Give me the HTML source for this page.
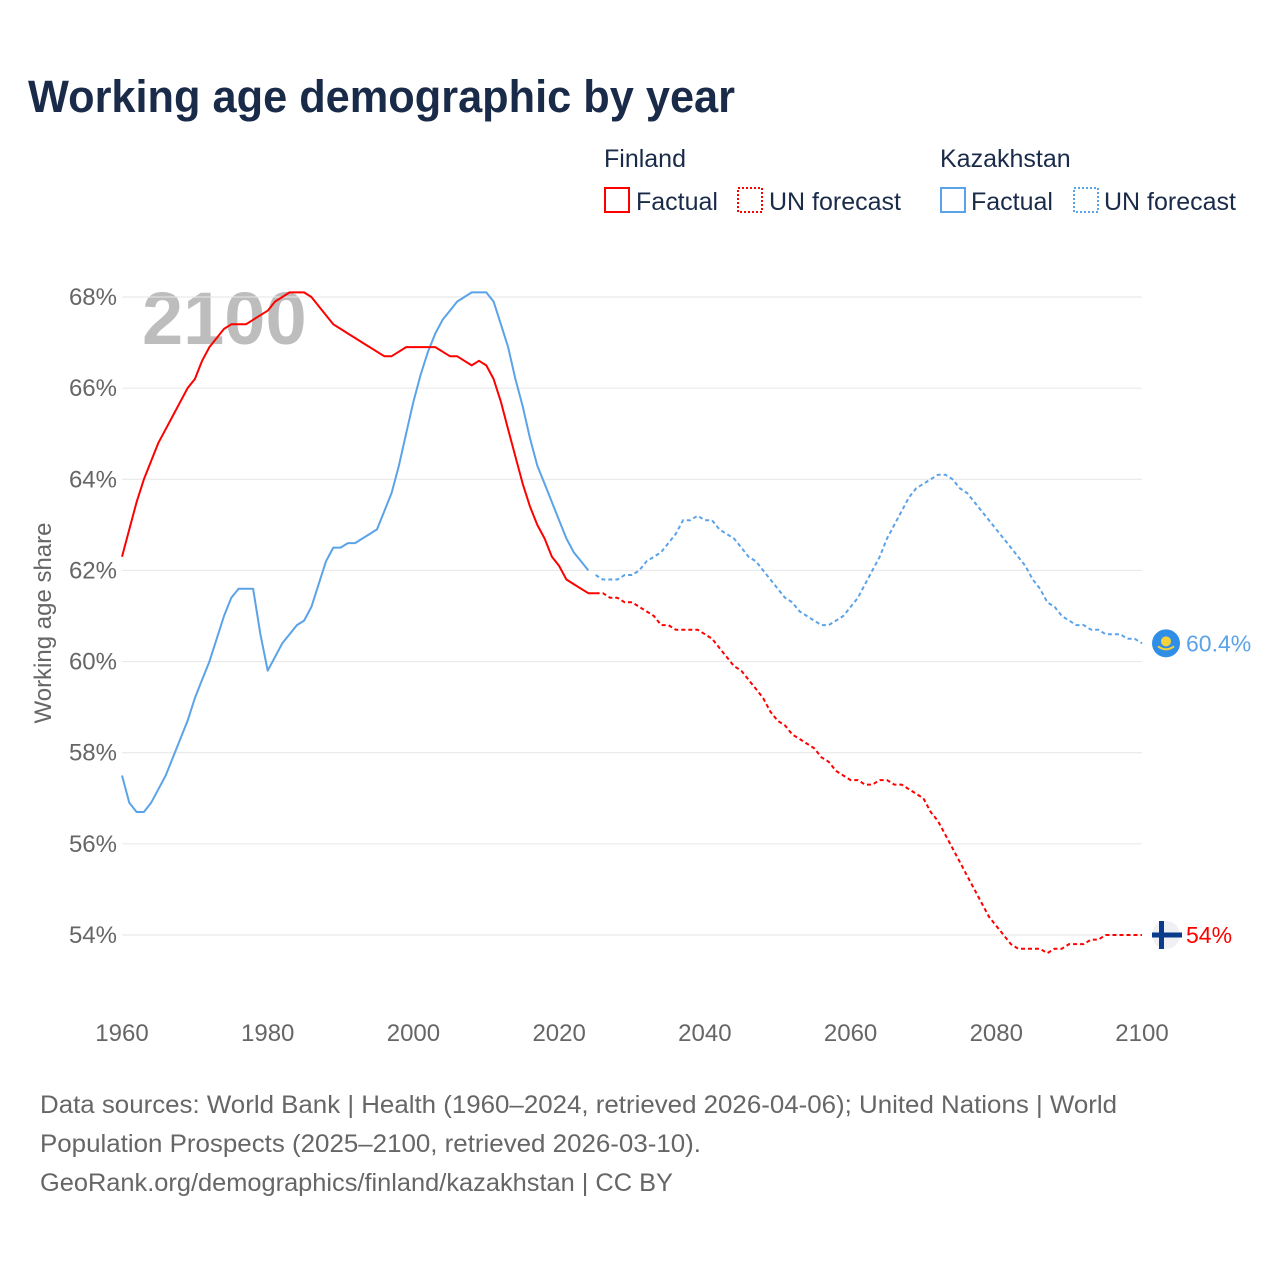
<!DOCTYPE html>
<html><head><meta charset="utf-8"><style>
body{margin:0;background:#fff;}
svg text{font-family:"Liberation Sans",sans-serif;}
</style></head><body>
<svg id="c" width="1280" height="1280" viewBox="0 0 1280 1280">
<rect width="1280" height="1280" fill="#fff"/>
<text x="28" y="112" font-size="45" font-weight="bold" fill="#1a2b49" textLength="707" lengthAdjust="spacingAndGlyphs">Working age demographic by year</text>
<g font-size="25" fill="#1a2b49">
<text x="604" y="167">Finland</text>
<text x="940" y="167">Kazakhstan</text>
<g><rect x="605" y="188" width="24" height="24" fill="none" stroke="#f00" stroke-width="2"/><text x="636" y="210">Factual</text></g>
<g><rect x="738" y="188" width="24" height="24" fill="none" stroke="#f00" stroke-width="2" stroke-dasharray="2 2"/><text x="769" y="210">UN forecast</text></g>
<g><rect x="941" y="188" width="24" height="24" fill="none" stroke="#5ba3e8" stroke-width="2"/><text x="971" y="210">Factual</text></g>
<g><rect x="1074" y="188" width="24" height="24" fill="none" stroke="#5ba3e8" stroke-width="2" stroke-dasharray="2 2"/><text x="1104" y="210">UN forecast</text></g>
</g>
<text x="142" y="344" font-size="74" font-weight="bold" fill="#bdbdbd">2100</text>
<g id="grid"></g>
<g id="marks"></g>
<text transform="translate(51,623) rotate(-90)" text-anchor="middle" font-size="24" fill="#666">Working age share</text>
<g font-size="25" fill="#666">
<text x="40" y="1113" textLength="1077" lengthAdjust="spacingAndGlyphs">Data sources: World Bank | Health (1960–2024, retrieved 2026-04-06); United Nations | World</text>
<text x="40" y="1152" textLength="661" lengthAdjust="spacingAndGlyphs">Population Prospects (2025–2100, retrieved 2026-03-10).</text>
<text x="40" y="1191" textLength="633" lengthAdjust="spacingAndGlyphs">GeoRank.org/demographics/finland/kazakhstan | CC BY</text>
</g>
</svg>
<script>
const yTicks=[54,56,58,60,62,64,66,68];
const xTicks=[1960,1980,2000,2020,2040,2060,2080,2100];
const finFactual=[62.3,62.9,63.5,64.0,64.4,64.8,65.1,65.4,65.7,66.0,66.2,66.6,66.9,67.1,67.3,67.4,67.4,67.4,67.5,67.6,67.7,67.9,68.0,68.1,68.1,68.1,68.0,67.8,67.6,67.4,67.3,67.2,67.1,67.0,66.9,66.8,66.7,66.7,66.8,66.9,66.9,66.9,66.9,66.9,66.8,66.7,66.7,66.6,66.5,66.6,66.5,66.2,65.7,65.1,64.5,63.9,63.4,63.0,62.7,62.3,62.1,61.8,61.7,61.6,61.5,61.5];
const finForecast=[61.5,61.5,61.4,61.4,61.3,61.3,61.2,61.1,61.0,60.8,60.8,60.7,60.7,60.7,60.7,60.6,60.5,60.3,60.1,59.9,59.8,59.6,59.4,59.2,58.9,58.7,58.6,58.4,58.3,58.2,58.1,57.9,57.8,57.6,57.5,57.4,57.4,57.3,57.3,57.4,57.4,57.3,57.3,57.2,57.1,57.0,56.7,56.5,56.2,55.9,55.6,55.3,55.0,54.7,54.4,54.2,54.0,53.8,53.7,53.7,53.7,53.7,53.6,53.7,53.7,53.8,53.8,53.8,53.9,53.9,54.0,54.0,54.0,54.0,54.0,54.0];
const kazFactual=[57.5,56.9,56.7,56.7,56.9,57.2,57.5,57.9,58.3,58.7,59.2,59.6,60.0,60.5,61.0,61.4,61.6,61.6,61.6,60.6,59.8,60.1,60.4,60.6,60.8,60.9,61.2,61.7,62.2,62.5,62.5,62.6,62.6,62.7,62.8,62.9,63.3,63.7,64.3,65.0,65.7,66.3,66.8,67.2,67.5,67.7,67.9,68.0,68.1,68.1,68.1,67.9,67.4,66.9,66.2,65.6,64.9,64.3,63.9,63.5,63.1,62.7,62.4,62.2,62.0];
const kazForecast=[61.9,61.8,61.8,61.8,61.9,61.9,62.0,62.2,62.3,62.4,62.6,62.8,63.1,63.1,63.2,63.1,63.1,62.9,62.8,62.7,62.5,62.3,62.2,62.0,61.8,61.6,61.4,61.3,61.1,61.0,60.9,60.8,60.8,60.9,61.0,61.2,61.4,61.7,62.0,62.3,62.7,63.0,63.3,63.6,63.8,63.9,64.0,64.1,64.1,64.0,63.8,63.7,63.5,63.3,63.1,62.9,62.7,62.5,62.3,62.1,61.8,61.6,61.3,61.2,61.0,60.9,60.8,60.8,60.7,60.7,60.6,60.6,60.6,60.5,60.5,60.4];
const endLabels=["54%","60.4%"];
const x=y=>122+(y-1960)*(1020/140);
const yv=v=>935-(v-54)*(638/14);
const NS="http://www.w3.org/2000/svg";
function mk(tag,attrs,parent){const e=document.createElementNS(NS,tag);for(const k in attrs)e.setAttribute(k,attrs[k]);parent.appendChild(e);return e;}
const grid=document.getElementById('grid'),marks=document.getElementById('marks');
yTicks.forEach(t=>{
  const l=mk('line',{x1:122,x2:1142,y1:yv(t),y2:yv(t),stroke:'#e6e6e6','stroke-width':1},grid);
  
  
  const tx=mk('text',{x:117,y:yv(t)+8,'text-anchor':'end','font-size':24,fill:'#666'},grid);tx.textContent=t+'%';
  
  
});
xTicks.forEach(t=>{
  const tx=mk('text',{x:x(t),y:1041,'text-anchor':'middle','font-size':24,fill:'#666'},grid);tx.textContent=t;
  
  
});
function line(arr,start,color,dash,name){
  const d=arr.map((v,i)=>(i?'L':'M')+x(start+i).toFixed(1)+','+yv(v).toFixed(1)).join('');
  const p=mk('path',{d,fill:'none',stroke:color,'stroke-width':2,'stroke-linejoin':'round'},marks);
  if(dash)p.setAttribute('stroke-dasharray','4 3');
  
  
}
line(kazFactual,1960,'#5ba3e8',false,'kazakhstan-factual-line');
line(kazForecast,2025,'#5ba3e8',true,'kazakhstan-forecast-line');
line(finFactual,1960,'#f00',false,'finland-factual-line');
line(finForecast,2025,'#f00',true,'finland-forecast-line');
const fy=yv(finForecast[finForecast.length-1]),ky=yv(kazForecast[kazForecast.length-1]);
const fm=mk('g',{},marks);


mk('circle',{cx:1166,cy:fy,r:14,fill:'#eef0f4'},fm);
mk('rect',{x:1152,y:fy-2.5,width:30,height:5,fill:'#0a3a8c'},fm);
mk('rect',{x:1159,y:fy-14,width:5,height:28,fill:'#0a3a8c'},fm);
const km=mk('g',{},marks);


mk('circle',{cx:1166,cy:ky,r:14,fill:'#2f8ee6'},km);
mk('circle',{cx:1166,cy:ky-2,r:5,fill:'#f5d23c'},km);
mk('path',{d:`M1158 ${ky+3} Q1166 ${ky+9} 1174 ${ky+3}`,stroke:'#f5d23c','stroke-width':2,fill:'none'},km);
const fl=mk('text',{x:1186,y:fy+8,'font-size':23,fill:'#f00'},marks);fl.textContent=endLabels[0];


const kl=mk('text',{x:1186,y:ky+8,'font-size':23,fill:'#5ba3e8'},marks);kl.textContent=endLabels[1];


</script>
</body></html>
